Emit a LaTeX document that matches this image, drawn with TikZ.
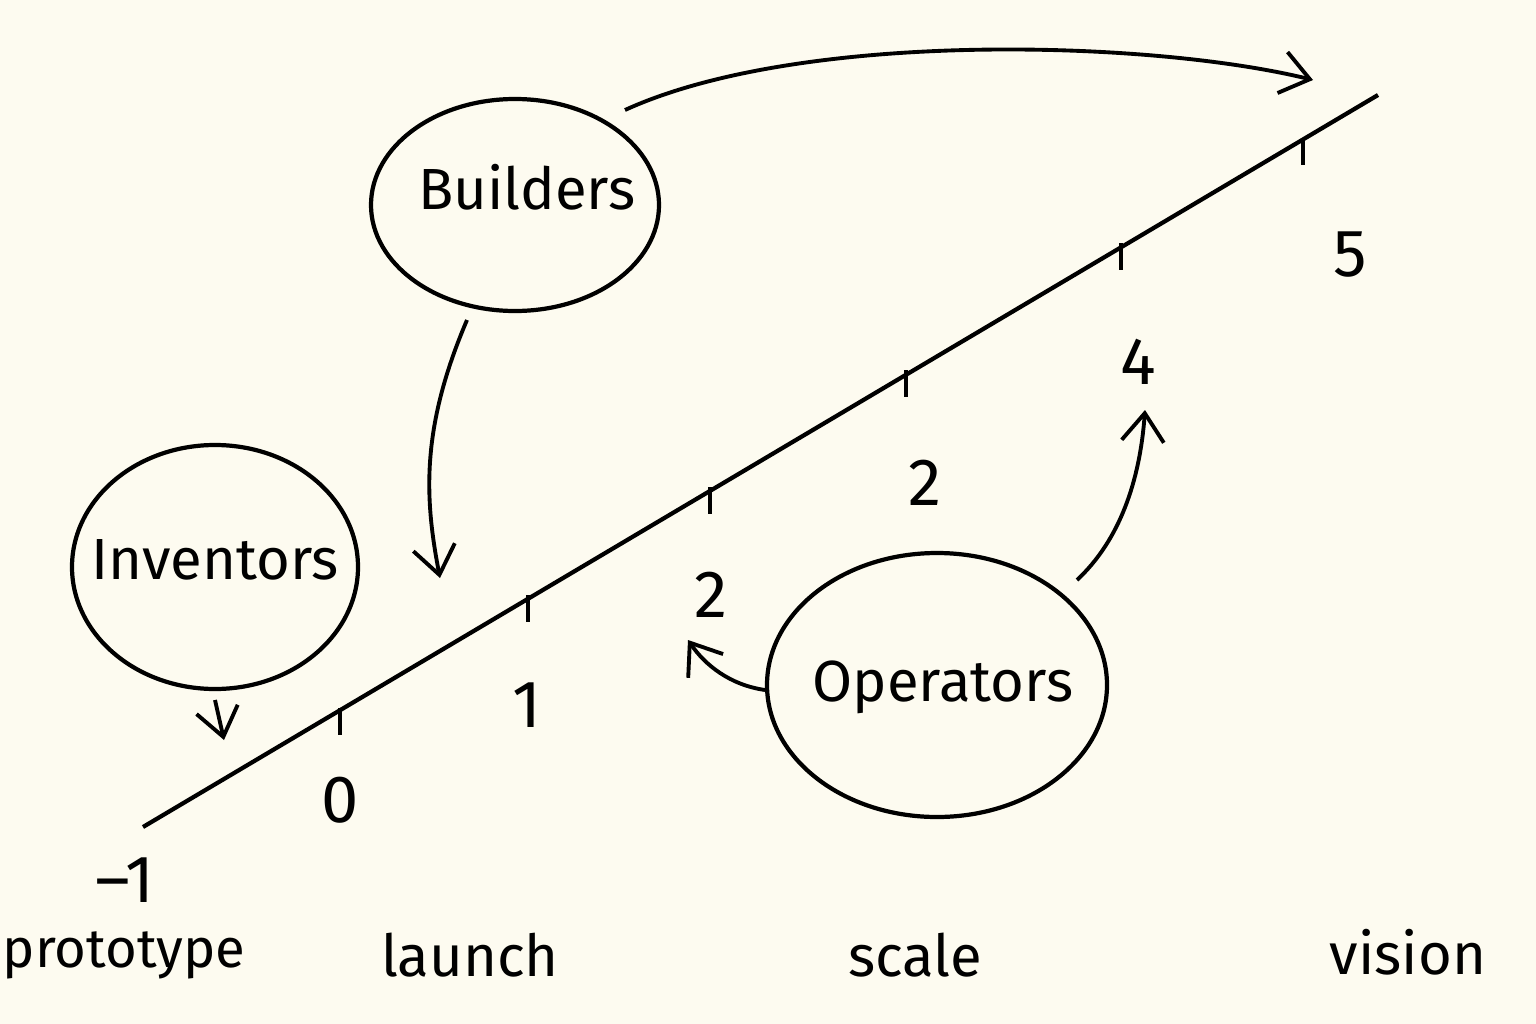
\documentclass[tikz,border=0pt]{standalone}
\usepackage{fontspec}
\setmainfont{Fira Sans}
\usetikzlibrary{arrows.meta}
\definecolor{bg}{HTML}{FDFBF0}
\begin{document}
\begin{tikzpicture}[x=0.01cm,y=-0.01cm,line width=1.2pt,
  lab/.style={font=\fontsize{16.5}{20}\selectfont,inner sep=0pt},
  num/.style={font=\fontsize{19}{22}\selectfont},
  arr/.style={-{Straight Barb[length=8pt,width=12pt]},line width=1.1pt}]
\fill[bg] (0,0) rectangle (1536,1024);
\useasboundingbox (0,0) rectangle (1536,1024);
\coordinate (a0) at (143,827);
\coordinate (a1) at (1378,95);
\draw (a0) -- (a1);
\foreach \x/\y in {340/708,528/595,710/487,906/370,1121/243,1303/138}
  \draw (\x,\y) -- (\x,\y+27);
\node[num] (n1) at (125,880) {–1};
\node[num] (n2) at (340,800) {0};
\node[num] (n3) at (527,705) {1};
\node[num] (n4) at (711,595) {2};
\node[num] (n5) at (925,483) {2};
\node[num] (n6) at (1138,362) {4};
\node[num] (n7) at (1350,255) {5};
\node[lab,font=\fontsize{15.5}{20}\selectfont] (w1) at (124,955) {prototype};
\node[lab] (w2) at (470,955) {launch};
\node[lab] (w3) at (915,955) {scale};
\node[lab] (w4) at (1408,952) {vision};
\draw (515,205) ellipse [x radius=144, y radius=106];
\node[lab] (B) at (527,187) {Builders};
\draw (215,567) ellipse [x radius=143, y radius=122];
\node[lab] (I) at (215,560) {Inventors};
\draw (937,685) ellipse [x radius=170, y radius=132];
\node[lab] (O) at (943,687) {Operators};
\coordinate (b1) at (625,110); \coordinate (t1) at (1313,80);
\draw[arr] (b1) .. controls (800,30) and (1150,40) .. (t1);
\coordinate (b2) at (467,320); \coordinate (t2) at (440,578);
\draw[arr] (b2) .. controls (420,430) and (425,500) .. (t2);
\coordinate (b3) at (215,700); \coordinate (t3) at (224,740);
\draw[arr] (b3) -- (t3);
\coordinate (b4) at (765,690); \coordinate (t4) at (688,640);
\draw[arr] (b4) .. controls (730,685) and (705,665) .. (t4);
\coordinate (b5) at (1077,580); \coordinate (t5) at (1145,410);
\draw[arr] (b5) .. controls (1120,540) and (1140,480) .. (t5);
\end{tikzpicture}
\end{document}
